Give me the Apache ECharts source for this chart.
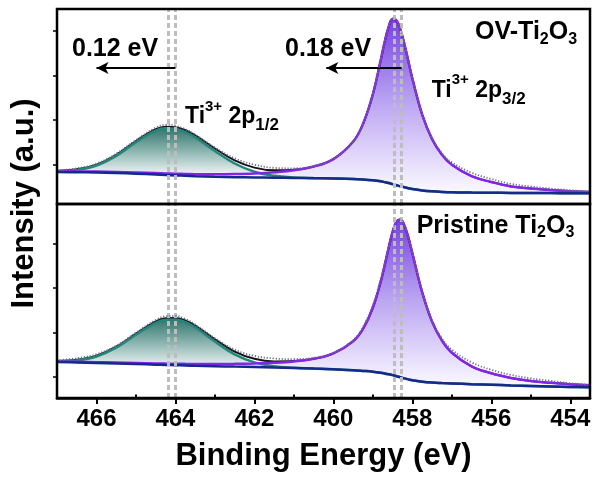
<!DOCTYPE html>
<html>
<head>
<meta charset="utf-8">
<script src="https://cdn.jsdelivr.net/npm/echarts@6/dist/echarts.min.js"></script>
<style>
html,body{margin:0;padding:0;background:#fff;}
#c{width:595px;height:480px;}
</style>
</head>
<body>
<div id="c"></div>
<script>
// ---------------- data ----------------
const energies = [467, 466.5, 466, 465.5, 465, 464.5, 464.25, 464, 463.75, 463.5, 463, 462.5, 462, 461.5, 461, 460.5, 460, 459.5, 459.25, 459, 458.8, 458.7, 458.6, 458.5, 458.4, 458.3, 458.2, 458.1, 458, 457.75, 457.5, 457.25, 457, 456.5, 456, 455.5, 455, 454.5, 454, 453.5];

// OV-Ti2O3 (upper panel): Shirley background and fitted components above it
const ovBackground = [32.0, 31.8, 31.5, 31.0, 30.3, 29.5, 29.0, 28.6, 28.2, 27.8, 27.2, 26.8, 26.5, 26.3, 26.0, 25.8, 25.5, 25.0, 24.5, 23.7, 22.7, 21.9, 21.0, 19.9, 18.8, 17.7, 16.7, 15.8, 15.0, 13.6, 12.7, 12.1, 11.7, 11.4, 11.2, 11.1, 11.0, 10.9, 10.8, 10.7];
const ovTi2p12 = [0.5, 2.2, 7.0, 17.1, 31.5, 43.9, 46.7, 46.5, 43.7, 38.8, 25.8, 13.7, 5.8, 1.9, 0.5, 0.1, 0, 0, 0, 0, 0, 0, 0, 0, 0, 0, 0, 0, 0, 0, 0, 0, 0, 0, 0, 0, 0, 0, 0, 0];
const ovTi2p32 = [0.71, 0.80, 0.91, 1.04, 1.21, 1.42, 1.54, 1.68, 1.84, 2.02, 2.49, 3.13, 4.05, 5.44, 7.69, 11.6, 19.4, 37.3, 55.5, 86.0, 121.3, 140.2, 156.2, 165.2, 164.6, 156.5, 143.1, 127.0, 110.6, 75.7, 52.2, 37.2, 27.5, 16.4, 10.8, 6.5, 4.5, 3.0, 2.0, 1.2];
const ovRawResidual = [0.5, 0.8, 1.0, 1.2, 1.0, 1.5, 2.0, 1.5, 1.0, 0.8, 1.0, 2.0, 3.0, 2.5, 1.5, 0.5, 0.3, 0, 0, 0.5, 0.5, 0.5, 0.5, 0.5, 0.5, 0, 0, 0, 0, 0.5, 1.0, 1.5, 2.5, 3.5, 3.0, 2.5, 2.0, 1.5, 1.0, 0.5];

// Pristine Ti2O3 (lower panel)
const prBackground = [36.0, 35.5, 35.0, 34.5, 34.0, 33.3, 33.0, 32.8, 32.5, 32.2, 31.8, 31.4, 31.0, 30.5, 30.0, 29.4, 28.8, 27.8, 27.1, 26.3, 25.3, 24.6, 23.8, 22.9, 21.8, 20.7, 19.6, 18.6, 17.7, 16.3, 15.4, 14.9, 14.5, 13.8, 13.2, 12.6, 12.1, 11.6, 11.1, 10.7];
const prTi2p12 = [0.5, 2.0, 6.5, 15.8, 29.3, 41.9, 45.3, 45.8, 43.4, 38.5, 24.7, 12.2, 4.6, 1.3, 0.3, 0, 0, 0, 0, 0, 0, 0, 0, 0, 0, 0, 0, 0, 0, 0, 0, 0, 0, 0, 0, 0, 0, 0, 0, 0];
const prTi2p32 = [0.66, 0.74, 0.84, 0.96, 1.10, 1.29, 1.40, 1.52, 1.66, 1.83, 2.23, 2.79, 3.57, 4.75, 6.61, 9.78, 15.8, 29.0, 42.0, 63.9, 91.1, 108.2, 126.4, 143.2, 154.8, 157.9, 152.8, 141.8, 127.2, 89.3, 61.0, 42.6, 30.8, 17.9, 11.5, 7.5, 5.0, 3.6, 2.6, 2.0];
const prRawResidual = [0.5, 1.5, 1.5, 1.0, 1.0, 1.5, 2.0, 2.0, 1.5, 1.0, 1.0, 2.0, 3.0, 3.0, 2.0, 1.0, 0.5, 1.0, 2.0, 3.0, 3.0, 2.0, 1.0, 0.5, 0, 0, 0, 0, 0, 0.5, 1.0, 2.0, 3.0, 4.0, 3.5, 3.0, 2.5, 2.0, 1.0, 0.5];

// axes
const xMajorTicks = [454, 456, 458, 460, 462, 464, 466];
const xMinorTicks = [455, 457, 459, 461, 463, 465, 467];
const yTicksUpper = [39, 84, 128.5, 173];
const yTicksLower = [21, 65.5, 110, 154.5];

// reference lines and shifts
const peakLineEnergies = [464.19, 464.0, 458.47, 458.27];
const shiftArrowFrom = [464.0, 458.27];
const shiftArrowTo = [466.0, 460.18];
const shiftArrowLevel = 136;
const shiftLabels = ['0.12 eV', '0.18 eV'];

// ---------------- chart ----------------
const FONT = "'Liberation Sans', Arial, Helvetica, sans-serif";
const chart = echarts.init(document.getElementById('c'), null, {renderer: 'canvas'});

const purpleGrad = {type: 'linear', x: 0, y: 0, x2: 0, y2: 1, colorStops: [
  {offset: 0, color: '#7642e0'}, {offset: 0.45, color: '#bba5f2'}, {offset: 0.9, color: '#f6f3ff'}, {offset: 1, color: '#ffffff'}]};
const tealGrad = {type: 'linear', x: 0, y: 0, x2: 0, y2: 1, colorStops: [
  {offset: 0, color: '#33766f'}, {offset: 0.32, color: '#92b9b4'}, {offset: 0.62, color: '#f2f7f6'}, {offset: 1, color: '#ffffff'}]};

function sum() {
  const arrs = Array.prototype.slice.call(arguments);
  return energies.map((_, i) => arrs.reduce((s, a) => s + a[i], 0));
}
function pts(arr) { return energies.map((e, i) => [e, arr[i]]); }

function panel(g, base, p12, p32, resid) {
  const series = [];
  const common = {type: 'line', xAxisIndex: g, yAxisIndex: g, symbol: 'none', showSymbol: false,
    smooth: 0.4, animation: false, silent: true};
  const hidden = {lineStyle: {opacity: 0, width: 0}};
  const add = o => series.push(Object.assign({}, common, o));
  const comp32 = sum(base, p32);
  const comp12 = sum(base, p12);
  const envelope = sum(base, p12, p32);
  const raw = sum(base, p12, p32, resid);
  // fills (component areas; white mask below background)
  add(Object.assign({data: pts(comp32), z: 1, areaStyle: {color: purpleGrad, opacity: 1}}, hidden));
  add(Object.assign({data: pts(comp12), z: 1, areaStyle: {color: tealGrad, opacity: 1}}, hidden));
  add(Object.assign({data: pts(base), z: 1, areaStyle: {color: '#ffffff', opacity: 1}}, hidden));
  // fit envelope
  add({data: pts(envelope), z: 2, lineStyle: {color: '#151515', width: 2}});
  // component lines
  add({data: pts(comp12), z: 3, lineStyle: {color: '#23867c', width: 2.5}});
  add({data: pts(comp32), z: 3, lineStyle: {color: '#8424e8', width: 2.5}});
  // background
  add({data: pts(base), z: 4, lineStyle: {color: '#162a8c', width: 2.5}});
  // raw data + reference lines
  const mlData = peakLineEnergies.map(e => ({xAxis: e}));
  if (g === 0) {
    shiftArrowFrom.forEach((e, i) => {
      mlData.push([
        {coord: [e, shiftArrowLevel], symbol: 'none', lineStyle: {color: '#000', width: 2, type: 'solid'}},
        {coord: [shiftArrowTo[i], shiftArrowLevel], symbol: 'arrow', symbolSize: [9, 12]}
      ]);
    });
  }
  add({data: pts(raw), z: 5,
    lineStyle: {color: '#6a6d88', width: 1.8, type: [1.2, 1.8]},
    markLine: {silent: true, animation: false, symbol: ['none', 'none'], label: {show: false},
      lineStyle: {color: '#bdbdbd', width: 3, type: [5, 3]}, emphasis: {disabled: true},
      data: mlData}
  });
  return series;
}

function richLabel(x, y, text, rich) {
  return {type: 'text', x: x, y: y, z: 100, silent: true,
    style: {text: text, rich: rich, align: 'left', verticalAlign: 'top', fill: '#000'}};
}
const formulaRich = {
  m: {fontFamily: FONT, fontWeight: 'bold', fontSize: 25, lineHeight: 30, color: '#000'},
  s: {fontFamily: FONT, fontWeight: 'bold', fontSize: 16, lineHeight: 6, verticalAlign: 'bottom', color: '#000'}
};
const tiRich = {
  m: {fontFamily: FONT, fontWeight: 'bold', fontSize: 23, lineHeight: 35, color: '#000'},
  p: {fontFamily: FONT, fontWeight: 'bold', fontSize: 15, lineHeight: 15, verticalAlign: 'top', color: '#000'},
  s: {fontFamily: FONT, fontWeight: 'bold', fontSize: 17, lineHeight: 6, verticalAlign: 'bottom', color: '#000'}
};
const plainRich = {
  m: {fontFamily: FONT, fontWeight: 'bold', fontSize: 25, lineHeight: 30, color: '#000'}
};

const axisX = (gi, extra) => Object.assign({
  type: 'value', gridIndex: gi, min: 453.5, max: 467, inverse: true, z: 10,
  splitLine: {show: false}, axisLine: {show: false}, axisTick: {show: false}, axisLabel: {show: false}
}, extra);

const option = {
  backgroundColor: '#ffffff',
  animation: false,
  grid: [
    {left: 57, right: 5, top: 9, height: 195, z: 10, show: true, borderColor: '#000', borderWidth: 2.5, backgroundColor: 'transparent', outerBoundsMode: 'none', containLabel: false},
    {left: 57, right: 5, top: 204, height: 194, z: 10, show: true, borderColor: '#000', borderWidth: 2.5, backgroundColor: 'transparent', outerBoundsMode: 'none', containLabel: false}
  ],
  xAxis: [
    axisX(0, {}),
    axisX(1, {
      axisLine: {show: true, onZero: false, lineStyle: {color: '#000', width: 2.5}},
      axisTick: {show: true, inside: false, length: 6, lineStyle: {color: '#000', width: 2}, customValues: xMajorTicks},
      axisLabel: {show: true, customValues: xMajorTicks, margin: 9, color: '#000', fontFamily: FONT, fontWeight: 'bold', fontSize: 24},
      name: 'Binding Energy (eV)', nameLocation: 'middle', nameGap: 43,
      nameTextStyle: {color: '#000', fontFamily: FONT, fontWeight: 'bold', fontSize: 31}
    }),
    axisX(1, {
      axisTick: {show: true, inside: false, length: 3.5, lineStyle: {color: '#000', width: 2}, customValues: xMinorTicks}
    })
  ],
  yAxis: [
    {type: 'value', gridIndex: 0, min: 0, max: 195, z: 10, splitLine: {show: false}, axisLine: {show: false},
      axisLabel: {show: false}, axisTick: {show: true, inside: false, length: 4, lineStyle: {color: '#000', width: 1.5}, customValues: yTicksUpper}},
    {type: 'value', gridIndex: 1, min: 0, max: 194, z: 10, splitLine: {show: false}, axisLine: {show: false},
      axisLabel: {show: false}, axisTick: {show: true, inside: false, length: 4, lineStyle: {color: '#000', width: 1.5}, customValues: yTicksLower}}
  ],
  series: [].concat(
    panel(0, ovBackground, ovTi2p12, ovTi2p32, ovRawResidual),
    panel(1, prBackground, prTi2p12, prTi2p32, prRawResidual)
  ),
  graphic: [
    {type: 'text', x: 24.5, y: 203.5, rotation: Math.PI / 2, silent: true,
      style: {text: 'Intensity (a.u.)', fill: '#000', font: 'bold 31px ' + FONT, align: 'center', verticalAlign: 'middle'}},
    richLabel(72, 34.2, '{m|' + shiftLabels[0] + '}', plainRich),
    richLabel(285, 34.2, '{m|' + shiftLabels[1] + '}', plainRich),
    richLabel(475, 17.2, '{m|OV-Ti}{s|2}{m|O}{s|3}', formulaRich),
    richLabel(416.7, 210.9, '{m|Pristine Ti}{s|2}{m|O}{s|3}', formulaRich),
    richLabel(431.7, 72.7, '{m|Ti}{p|3+}{m| 2p}{s|3/2}', tiRich),
    richLabel(185, 99.3, '{m|Ti}{p|3+}{m| 2p}{s|1/2}', tiRich)
  ]
};
chart.setOption(option);
</script>
</body>
</html>
